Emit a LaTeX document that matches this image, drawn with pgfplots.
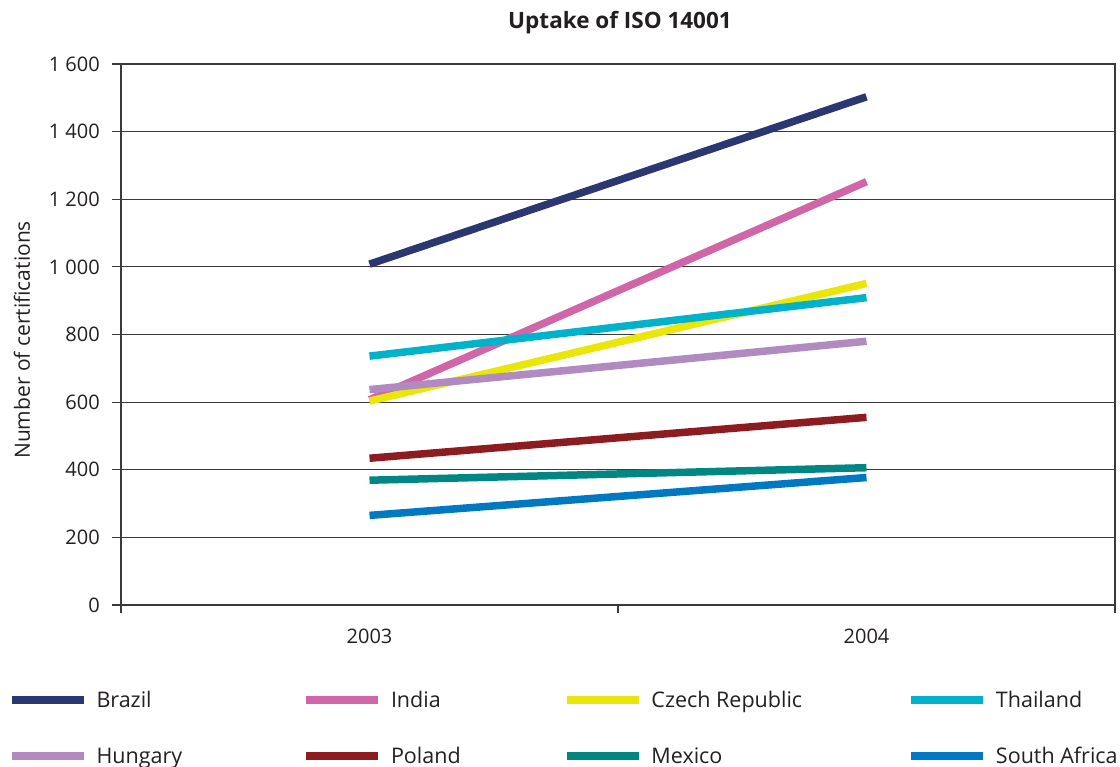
\documentclass[border=0pt]{standalone}
\usepackage{fontspec}
\setmainfont{Open Sans}
\usepackage{pgfplots}
\pgfplotsset{compat=1.18}
\definecolor{cBrazil}{HTML}{2A3770}
\definecolor{cIndia}{HTML}{D066A8}
\definecolor{cCzech}{HTML}{EAE60A}
\definecolor{cThai}{HTML}{00B2CA}
\definecolor{cHung}{HTML}{B08AC0}
\definecolor{cPol}{HTML}{8E1B20}
\definecolor{cMex}{HTML}{008784}
\definecolor{cSA}{HTML}{0079C2}
\definecolor{gridc}{HTML}{3A3A3A}
\definecolor{txt}{HTML}{231F20}
\newcommand{\legtxt}[2]{\hspace*{9pt}\makebox[#1][l]{\rule[\dimexpr0.36em-28pt\relax]{0pt}{56pt}#2}}
\begin{document}
\fontsize{20}{24}\selectfont
\begin{tikzpicture}
\useasboundingbox (0,0) rectangle (1120pt,767pt);
\begin{axis}[
  at={(121pt,162pt)}, anchor=south west,
  scale only axis, width=994pt, height=541pt,
  xmin=0.5, xmax=2.5, ymin=0, ymax=1600,
  xtick pos=bottom, ytick pos=left,
  xtick={1,2}, xticklabels={2003,2004},
  major x tick style={draw=none},
  extra x ticks={0.5,1.5,2.5}, extra x tick labels={},
  extra x tick style={xtick align=outside, major tick length=8pt, major x tick style={draw=gridc, line width=1.2pt}, xmajorgrids=false},
  ytick={0,200,...,1600},
  yticklabels={0,200,400,600,800,1 000,1 200,1 400,1 600},
  ytick align=outside, major tick length=9pt,
  ymajorgrids, grid style={draw=gridc, line width=1.2pt},
  axis line style={draw=gridc, line width=1.2pt},
  tick style={draw=gridc, line width=1.2pt},
  every tick label/.append style={font=\fontsize{20}{24}\selectfont, text=txt},
  yticklabel style={anchor=east, inner sep=0pt, xshift=-12pt},
  xticklabel style={anchor=center, inner sep=0pt, yshift=-31pt},
  title={\bfseries Uptake of ISO 14001},
  title style={at={(axis description cs:0.5,1)}, anchor=center, yshift=35pt, xshift=2pt, font=\fontsize{22.5}{26}\selectfont, text=txt},
  ylabel={Number of certifications},
  ylabel style={at={(axis description cs:-0.0996,0.49)}, anchor=center, font=\fontsize{21}{24}\selectfont, text=txt},
  every axis plot/.append style={line width=7.5pt},
  legend image code/.code={\draw[#1] (0pt,0pt) -- (72pt,0pt);},
  legend columns=4,
  legend style={at={(-0.11368,-0.12384)}, anchor=north west, draw=none, fill=none,
    inner sep=0pt, outer sep=0pt, row sep=0pt, column sep=0pt,
    nodes={inner sep=0pt, outer sep=0pt, text depth=, font=\fontsize{21.5}{24}\selectfont, text=txt},
    cells={anchor=center}},
]
\addplot[cBrazil] coordinates {(1,1008) (2,1503)};
\addlegendentry{\legtxt{206pt}{Brazil}}
\addplot[cIndia] coordinates {(1,607) (2,1252)};
\addlegendentry{\legtxt{172pt}{India}}
\addplot[cCzech] coordinates {(1,603) (2,951)};
\addlegendentry{\legtxt{256pt}{Czech Republic}}
\addplot[cThai] coordinates {(1,736) (2,909)};
\addlegendentry{\legtxt{140pt}{Thailand}}
\addplot[cHung] coordinates {(1,637) (2,780)};
\addlegendentry{\legtxt{206pt}{Hungary}}
\addplot[cPol] coordinates {(1,434) (2,555)};
\addlegendentry{\legtxt{172pt}{Poland}}
\addplot[cMex] coordinates {(1,369) (2,406)};
\addlegendentry{\legtxt{256pt}{Mexico}}
\addplot[cSA] coordinates {(1,265) (2,377)};
\addlegendentry{\legtxt{140pt}{South Africa}}
\end{axis}
\end{tikzpicture}
\end{document}
